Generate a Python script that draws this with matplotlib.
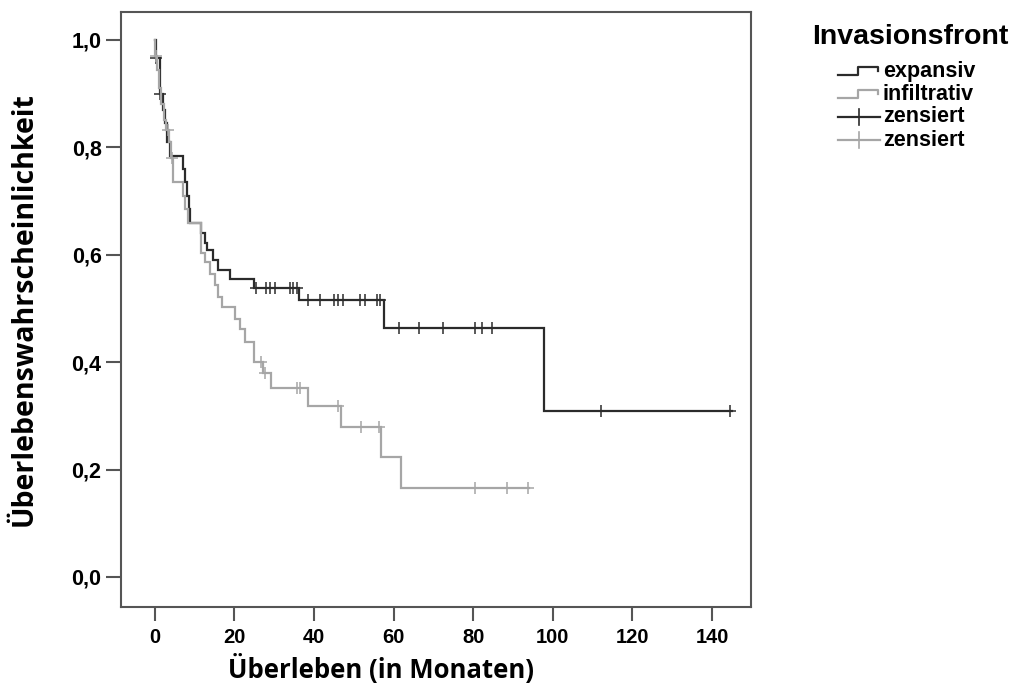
import matplotlib
matplotlib.use("Agg")
import matplotlib.pyplot as plt
from matplotlib.lines import Line2D
from matplotlib.ticker import FuncFormatter

# Kaplan-Meier steps: (month of drop, survival after drop)
EXP_T = [0.0, 0.3, 1.2, 2.0, 2.6, 3.1, 3.8, 7.0, 7.6, 8.0, 8.5, 8.9, 11.7,
         12.6, 13.2, 14.6, 15.9, 18.8, 24.9, 36.3, 57.7, 97.8]
EXP_S = [1.0, 0.966, 0.90, 0.87, 0.845, 0.81, 0.783, 0.76, 0.735, 0.71, 0.685,
         0.659, 0.640, 0.621, 0.609, 0.590, 0.572, 0.555, 0.538, 0.515, 0.463,
         0.309]
EXP_END = 145.0
EXP_CENS = [0.4, 1.26, 25.5, 27.9, 28.9, 30.1, 33.9, 34.8, 35.6, 38.5, 41.5,
            45.0, 46.1, 47.3, 51.5, 52.7, 55.7, 56.5, 61.3, 66.4, 72.4, 80.5,
            82.1, 84.7, 112.2, 144.5]

INF_T = [0.0, 0.1, 0.5, 1.0, 1.6, 2.2, 2.8, 3.5, 4.0, 4.6, 7.1, 7.7, 8.3,
         11.7, 12.6, 13.8, 15.0, 15.8, 17.0, 20.1, 21.3, 22.6, 24.3, 24.9,
         27.1, 29.3, 38.5, 46.9, 56.8, 61.8]
INF_S = [1.0, 0.97, 0.944, 0.91, 0.88, 0.851, 0.832, 0.81, 0.78, 0.736, 0.71,
         0.685, 0.659, 0.603, 0.587, 0.565, 0.544, 0.522, 0.503, 0.481, 0.462,
         0.438, 0.438, 0.401, 0.379, 0.351, 0.318, 0.280, 0.224, 0.166]
INF_END = 94.0
INF_CENS = [0.2, 3.3, 4.2, 26.6, 27.7, 35.6, 36.6, 46.1, 51.9, 56.4, 80.4,
            88.6, 93.8]

X_TICKS = [0, 20, 40, 60, 80, 100, 120, 140]
Y_TICKS = [0.0, 0.2, 0.4, 0.6, 0.8, 1.0]
GROUPS = ["expansiv", "infiltrativ"]

DARK, LIGHT, SPINE = "#2b2b2b", "#a6a6a6", "#555555"
plt.rcParams.update({"font.family": "Liberation Sans", "font.weight": "bold"})


def surv_at(times, surv, t):
    s = surv[0]
    for ti, si in zip(times, surv):
        if ti <= t:
            s = si
    return s


fig = plt.figure(figsize=(10.23, 6.95), dpi=100)
ax = fig.add_axes([0.1183, 0.1266, 0.6158, 0.8561])

for times, surv, end, cens, col in ((EXP_T, EXP_S, EXP_END, EXP_CENS, DARK),
                                    (INF_T, INF_S, INF_END, INF_CENS, LIGHT)):
    ax.step(times + [end], surv + [surv[-1]], where="post", color=col, lw=1.6,
            solid_joinstyle="miter")
    ax.plot(cens, [surv_at(times, surv, c) for c in cens], ls="none",
            marker="+", ms=8, mew=1.1, color=col)

ax.set_xlim(-8.5, 149.8)
ax.set_ylim(-0.056, 1.052)
ax.set_xticks(X_TICKS)
ax.set_yticks(Y_TICKS)
ax.yaxis.set_major_formatter(FuncFormatter(lambda v, p: f"{v:.1f}".replace(".", ",")))
ax.tick_params(direction="out", length=11, width=1.5, color=SPINE, pad=3)
ax.tick_params(axis="x", length=10, labelsize=14.5, pad=5)
ax.tick_params(axis="y", labelsize=15.5)
for sp in ax.spines.values():
    sp.set_color(SPINE)
    sp.set_linewidth(1.5)
ax.set_xlabel("Überleben (in Monaten)", family="Open Sans", weight="bold",
              size=18.5)
ax.set_ylabel("Überlebenswahrscheinlichkeit", family="Open Sans",
              weight="bold", size=20.5)
ax.xaxis.set_label_coords(0.413, -0.079)
ax.yaxis.set_label_coords(-0.131, 0.5)

# legend drawn by hand in pixel coordinates (SPSS-style step glyphs)
lax = fig.add_axes([0, 0, 1, 1], zorder=-1)
lax.set_xlim(0, 1023)
lax.set_ylim(695, 0)
lax.axis("off")
lax.text(910, 37, "Invasionsfront", ha="center", va="center", size=20.5)
rows = [71, 94, 117, 140]
for y, col, name in zip(rows[:2], (DARK, LIGHT), GROUPS):
    lax.add_line(Line2D([838, 858, 858, 878, 878], [y + 4, y + 4, y - 4, y - 4, y],
                        color=col, lw=1.6))
    lax.text(883, y, name, va="center", size=15.5)
for y, col in zip(rows[2:], (DARK, LIGHT)):
    lax.add_line(Line2D([838, 880], [y, y], color=col, lw=1.6))
    lax.add_line(Line2D([859, 859], [y - 8, y + 8], color=col, lw=1.2))
    lax.text(883, y, "zensiert", va="center", size=15.5)

fig.savefig("out.png", dpi=100)
